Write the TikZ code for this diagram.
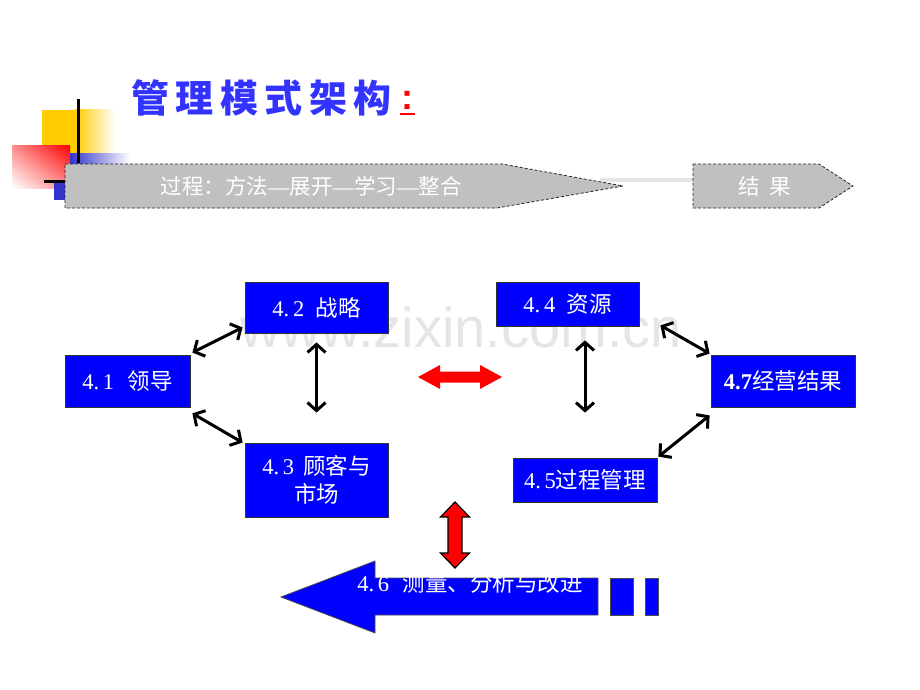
\documentclass[tikz,border=0pt]{standalone}
\usepackage{fontspec}
\setmainfont{Noto Sans CJK SC}
\newfontfamily\dig{Liberation Serif}
\newfontfamily\wmfont{Liberation Sans}
\usetikzlibrary{arrows.meta,calc,shadings}
\definecolor{tblue}{RGB}{51,51,255}
\definecolor{bblue}{RGB}{0,0,255}
\definecolor{gfill}{RGB}{192,192,192}
\definecolor{dblue}{RGB}{51,51,204}
\definecolor{yel}{RGB}{255,204,0}
\newcommand{\dd}[1]{{\dig #1}}
\newcommand{\ldash}{{\dig —}}
\tikzset{
  bbox/.style={draw=black!80, line width=0.8, fill=bblue, text=white, inner sep=0pt,
    font=\fontsize{22.5}{28}\selectfont, align=center},
  gshape/.style={draw=black!85, line width=0.8, dash pattern=on 3pt off 2pt, fill=gfill},
  gtxt/.style={text=white, font=\fontsize{21.5}{24}\selectfont, inner sep=0pt},
  barr/.style={line width=3, {Straight Barb[length=8pt,width=18pt]}-{Straight Barb[length=8pt,width=18pt]}},
}
\begin{document}
\begin{tikzpicture}[x=1pt,y=-1pt]
\useasboundingbox (0,0) rectangle (920,690);
% watermark
\node[anchor=base, text=black!10, font=\wmfont\fontsize{56}{56}\selectfont, inner sep=0pt] (wm) at (461,347) {www.zixin.com.cn};
% decoration
\fill[yel] (42,110) rectangle (75,153);
\shade[left color=yel, right color=white] (75,110) rectangle (115,153);
\shade[upper right=red, lower left=white, upper left=red!45!white, lower right=red!45!white] (12,145) rectangle (70,188);
\shade[left color=dblue, right color=white] (70,153) rectangle (130,164);
\fill[dblue] (54,181) rectangle (65,200);
\draw[line width=3] (78,99) -- (78,163);
\draw[line width=3] (44,181) -- (65,181);
% title
\node[anchor=west, inner sep=0pt, text=tblue, font=\bfseries\fontsize{38}{40}\selectfont] (title) at (131,98)
  {管\hspace{6.5pt}理\hspace{6.5pt}模\hspace{6.5pt}式\hspace{6.5pt}架\hspace{6.5pt}构};
\node[anchor=base west, inner sep=0pt, text=red, font=\wmfont\bfseries\fontsize{36}{36}\selectfont] (colon) at (401,110) {:};
\draw[red, line width=2] (400,114) -- (415,114);
% gray process bar
\draw[line width=4, black!10] (600,180) -- (693,180);
\draw[gshape] (65,164) -- (502,164) -- (623,186) -- (497,208) -- (65,208) -- cycle;
\draw[gshape] (693,164) -- (819,164) -- (853,186) -- (819,208) -- (693,208) -- cycle;
\node[gtxt] (proc) at (311,186) {过程：方法\ldash 展开\ldash 学习\ldash 整合};
\node[gtxt] (res) at (765,186) {结\hspace{0.45em}果};
% boxes
\node[bbox, minimum width=143, minimum height=51] (b42) at (316.5,307.5) {\dd{4.\,2}\hspace{0.5em}战略};
\node[bbox, minimum width=125, minimum height=52] (b41) at (127.5,381) {\dd{4.\,1}\hspace{0.6em}领导};
\node[bbox, minimum width=143, minimum height=74] (b43) at (316.5,480) {\dd{4.\,3}\hspace{0.4em}顾客与\\市场};
\node[bbox, minimum width=143, minimum height=44] (b44) at (567.5,304) {\dd{4.\,4}\hspace{0.5em}资源};
\node[bbox, minimum width=144, minimum height=52] (b47) at (783,381) {{\dig\bfseries 4.7}经营结果};
\node[bbox, minimum width=144, minimum height=44] (b45) at (585,480) {\dd{4.\,5}过程管理};
% black arrows
\draw[barr] ($(b41.north east)+(2,-2)$) -- ($(b42.south west)+(-2,-6)$);
\draw[barr] ($(b41.south east)+(2,6)$) -- ($(b43.north west)+(-2,0)$);
\draw[barr] ($(b42.south)+(0,9)$) -- ($(b43.north)+(0,-30)$);
\draw[barr] ($(b44.south)+(17.5,14)$) -- ($(b45.north)+(0,-45)$);
\draw[barr] ($(b44.south east)+(21,-1)$) -- ($(b47.north west)+(-1,-1)$);
\draw[barr] ($(b45.north east)+(1,-1)$) -- ($(b47.south west)+(-1,8)$);
% red arrows
\fill[red] (418,377) -- (440,365) -- (440,371.5) -- (480,371.5) -- (480,365) -- (502,377)
  -- (480,389) -- (480,382.5) -- (440,382.5) -- (440,389) -- cycle;
\draw[fill=red, line width=1.2] (455,502) -- (469.5,517) -- (462,517) -- (462,553) -- (469.5,553)
  -- (455,568) -- (440.5,553) -- (448,553) -- (448,517) -- (440.5,517) -- cycle;
% big blue arrow
\draw[fill=bblue, draw=black!70, line width=0.8] (281,597) -- (375,561) -- (375,578) -- (598,578)
  -- (598,615) -- (375,615) -- (375,633) -- cycle;
\draw[fill=bblue, draw=black!70, line width=0.8] (610,578) rectangle (633,615);
\draw[fill=bblue, draw=black!70, line width=0.8] (645,578) rectangle (658,615);
\node[text=white, font=\fontsize{22.5}{24}\selectfont, inner sep=0pt] (b46) at (470,583) {\dd{4.\,6}\hspace{0.6em}测量、分析与改进};
\end{tikzpicture}
\end{document}
